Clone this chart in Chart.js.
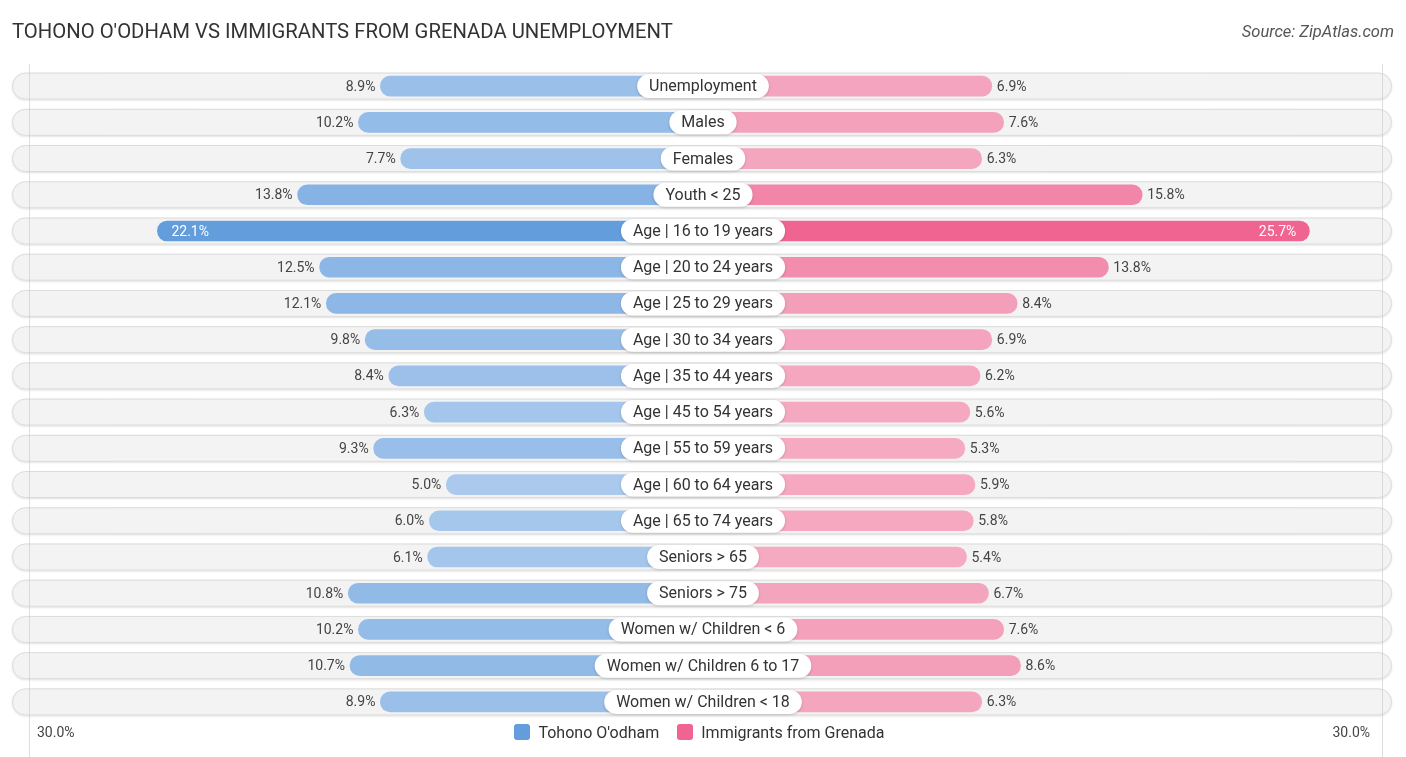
<!DOCTYPE html>
<html>
<head>
<meta charset="utf-8">
<script src="https://cdn.jsdelivr.net/npm/chart.js@4.4.1/dist/chart.umd.min.js"></script>
<style>
  html, body { margin:0; padding:0; background:#ffffff; width:1406px; height:757px; overflow:hidden; }
  #title { position:absolute; left:12px; top:19px; font-family:Roboto, sans-serif; font-size:20.3px; color:#333; white-space:nowrap; }
  #source { position:absolute; right:12px; top:22px; font-family:Roboto, sans-serif; font-size:16.5px; font-style:italic; color:#555; white-space:nowrap; }
  #wrap { position:absolute; left:0; top:0; width:1406px; height:757px; }
  #legend { position:absolute; left:0; width:1399px; top:722px; height:20px; display:flex; justify-content:center; align-items:center; font-family:Roboto, sans-serif; font-size:16px; color:#333; }
  #legend .item { display:flex; align-items:center; margin:0 9px; }
  #legend .box { width:16px; height:16px; border-radius:3px; margin-right:8px; }
</style>
</head>
<body>
<div id="wrap"><canvas id="c"></canvas></div>
<div id="title">TOHONO O'ODHAM VS IMMIGRANTS FROM GRENADA UNEMPLOYMENT</div>
<div id="source">Source: ZipAtlas.com</div>
<div id="legend"></div>
<script>
const categories = [
  "Unemployment","Males","Females","Youth < 25","Age | 16 to 19 years","Age | 20 to 24 years",
  "Age | 25 to 29 years","Age | 30 to 34 years","Age | 35 to 44 years","Age | 45 to 54 years",
  "Age | 55 to 59 years","Age | 60 to 64 years","Age | 65 to 74 years","Seniors > 65","Seniors > 75",
  "Women w/ Children < 6","Women w/ Children 6 to 17","Women w/ Children < 18"
];
const tohono = [8.9,10.2,7.7,13.8,22.1,12.5,12.1,9.8,8.4,6.3,9.3,5.0,6.0,6.1,10.8,10.2,10.7,8.9];
const grenada = [6.9,7.6,6.3,15.8,25.7,13.8,8.4,6.9,6.2,5.6,5.3,5.9,5.8,5.4,6.7,7.6,8.6,6.3];
const seriesNames = ["Tohono O'odham","Immigrants from Grenada"];
const axisMaxLabel = "30.0%";

const AXIS_MAX = 30;     // value shown at the axis ends
const OFFSET = 10.2;     // space reserved in the middle for the row label (in value units)
const LIMIT = AXIS_MAX + OFFSET;

function mix(c0, c1, t){
  const r = Math.round(c0[0] + (c1[0]-c0[0])*t);
  const g = Math.round(c0[1] + (c1[1]-c0[1])*t);
  const b = Math.round(c0[2] + (c1[2]-c0[2])*t);
  return `rgb(${r},${g},${b})`;
}
const blueLo=[190,214,242], blueHi=[100,157,220];
const pinkLo=[246,188,206], pinkHi=[240,100,146];
const maxT = Math.max(...tohono), maxG = Math.max(...grenada);
const blueColors = tohono.map(v => mix(blueLo, blueHi, v/maxT));
const pinkColors = grenada.map(v => mix(pinkLo, pinkHi, v/maxG));
const legendColors = [mix(blueLo, blueHi, 1), mix(pinkLo, pinkHi, 1)];

const FONT = "Roboto, sans-serif";

// HTML legend
const legendEl = document.getElementById('legend');
seriesNames.forEach((n, i) => {
  const item = document.createElement('div');
  item.className = 'item';
  const box = document.createElement('div');
  box.className = 'box';
  box.style.background = legendColors[i];
  const txt = document.createElement('span');
  txt.textContent = n;
  item.appendChild(box);
  item.appendChild(txt);
  legendEl.appendChild(item);
});

function roundRect(ctx, x, y, w, h, r){
  ctx.beginPath();
  ctx.moveTo(x+r, y);
  ctx.lineTo(x+w-r, y);
  ctx.arc(x+w-r, y+r, r, -Math.PI/2, Math.PI/2);
  ctx.lineTo(x+r, y+h);
  ctx.arc(x+r, y+r, r, Math.PI/2, Math.PI*1.5);
  ctx.closePath();
}

const rowsPlugin = {
  id: 'rows',
  beforeDatasetsDraw(chart){
    const {ctx, chartArea, scales:{y}} = chart;
    ctx.save();
    categories.forEach((c,i) => {
      const cy = y.getPixelForValue(i);
      const h = 27, x0 = chartArea.left - 12, x1 = chartArea.right + 10;
      ctx.save();
      ctx.shadowColor = 'rgba(0,0,0,0.12)';
      ctx.shadowBlur = 2;
      ctx.shadowOffsetY = 1;
      roundRect(ctx, x0, cy - h/2, x1 - x0, h, h/2);
      ctx.fillStyle = '#f3f3f3';
      ctx.fill();
      ctx.restore();
      roundRect(ctx, x0+0.5, cy - h/2 + 0.5, x1 - x0 - 1, h - 1, (h-1)/2);
      ctx.strokeStyle = '#dcdcdc';
      ctx.lineWidth = 1;
      ctx.stroke();
    });
    ctx.strokeStyle = 'rgba(200,200,200,0.6)';
    ctx.lineWidth = 1;
    [chartArea.left + 5.5, chartArea.right + 0.5].forEach(px => {
      ctx.beginPath();
      ctx.moveTo(px, chartArea.top - 4);
      ctx.lineTo(px, chart.height);
      ctx.stroke();
    });
    ctx.restore();
  },
  afterDatasetsDraw(chart){
    const {ctx, chartArea, scales:{x,y}} = chart;
    ctx.save();
    ctx.textBaseline = 'middle';
    categories.forEach((c,i) => {
      const cy = y.getPixelForValue(i);
      const lv = tohono[i];
      const lx = x.getPixelForValue(-(lv + OFFSET));
      ctx.font = `14px ${FONT}`;
      if (lv === maxT) {
        ctx.fillStyle = '#ffffff';
        ctx.textAlign = 'left';
        ctx.fillText(lv.toFixed(1) + '%', lx + 14, cy + 1);
      } else {
        ctx.fillStyle = '#444';
        ctx.textAlign = 'right';
        ctx.fillText(lv.toFixed(1) + '%', lx - 5, cy + 1);
      }
      const rv = grenada[i];
      const rx = x.getPixelForValue(rv + OFFSET);
      if (rv === maxG) {
        ctx.fillStyle = '#ffffff';
        ctx.textAlign = 'right';
        ctx.fillText(rv.toFixed(1) + '%', rx - 13, cy + 1);
      } else {
        ctx.fillStyle = '#444';
        ctx.textAlign = 'left';
        ctx.fillText(rv.toFixed(1) + '%', rx + 5, cy + 1);
      }
      const cx = x.getPixelForValue(0);
      ctx.font = `16px ${FONT}`;
      const tw = ctx.measureText(c).width;
      const pw = tw + 24, ph = 24;
      ctx.save();
      ctx.shadowColor = 'rgba(0,0,0,0.18)';
      ctx.shadowBlur = 3;
      ctx.shadowOffsetY = 1;
      roundRect(ctx, cx - pw/2, cy - ph/2, pw, ph, ph/2);
      ctx.fillStyle = '#ffffff';
      ctx.fill();
      ctx.restore();
      ctx.fillStyle = '#333';
      ctx.textAlign = 'center';
      ctx.fillText(c, cx, cy + 1);
    });
    ctx.font = `14px ${FONT}`;
    ctx.fillStyle = '#444';
    ctx.textAlign = 'left';
    ctx.fillText(axisMaxLabel, chartArea.left + 13, 733);
    ctx.textAlign = 'right';
    ctx.fillText(axisMaxLabel, chartArea.right - 12, 733);
    ctx.restore();
  }
};

new Chart(document.getElementById('c'), {
  type: 'bar',
  data: {
    labels: categories,
    datasets: [
      {
        label: seriesNames[0],
        data: tohono.map(v => [0, -(v + OFFSET)]),
        backgroundColor: blueColors,
        barThickness: 20,
        borderRadius: 10,
        borderSkipped: false,
        grouped: false
      },
      {
        label: seriesNames[1],
        data: grenada.map(v => [0, v + OFFSET]),
        backgroundColor: pinkColors,
        barThickness: 20,
        borderRadius: 10,
        borderSkipped: false,
        grouped: false
      }
    ]
  },
  options: {
    indexAxis: 'y',
    responsive: true,
    maintainAspectRatio: false,
    animation: false,
    layout: { padding: { left: 24, right: 24, top: 68, bottom: 37 } },
    scales: {
      x: { min: -LIMIT, max: LIMIT, display: false, grid: { display: false } },
      y: { display: false, grid: { display: false } }
    },
    plugins: {
      tooltip: { enabled: false },
      title: { display: false },
      legend: { display: false }
    }
  },
  plugins: [rowsPlugin]
});
</script>
</body>
</html>
